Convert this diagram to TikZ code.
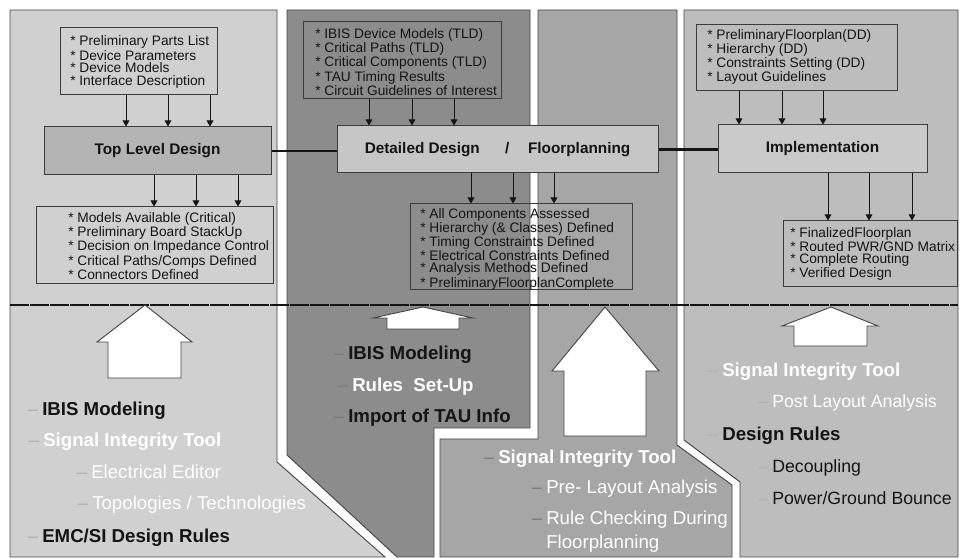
\documentclass[tikz,border=0pt]{standalone}
\usepackage{fontspec}
\setmainfont{Liberation Sans}
\usepackage{xcolor}
\usepackage{tikz}
\usetikzlibrary{arrows.meta, positioning, calc, fit}
\definecolor{mydark}{RGB}{20,20,20}
\definecolor{myedge}{RGB}{70,70,70}
\definecolor{mybox}{RGB}{60,60,60}
\definecolor{pnlleft}{RGB}{208,208,208}
\definecolor{pnldark}{RGB}{140,140,140}
\definecolor{pnlmid}{RGB}{166,166,166}
\definecolor{pnlright}{RGB}{189,189,189}
\definecolor{hdrtld}{RGB}{180,180,180}
\definecolor{hdrdd}{RGB}{198,198,198}
\definecolor{hdrimpl}{RGB}{202,202,202}
\definecolor{bulA}{RGB}{176,176,176}
\definecolor{bulB}{RGB}{122,122,122}
\newcommand{\bdash}[1]{\llap{\textcolor{#1}{\mdseries--}\hspace{3pt}}}
\tikzset{
  panel/.style={draw=myedge, line width=0.7pt},
  divider/.style={draw=mydark, line width=1pt, dash pattern=on 14pt off 1pt},
  listbox/.style={rectangle, draw=mybox, line width=0.75pt, inner sep=0pt},
  listtext/.style={anchor=west, align=left, inner sep=0pt, text=mydark,
    font=\fontsize{10.3}{9.4}\selectfont},
  stage/.style={rectangle, draw=mybox, line width=0.75pt, inner sep=0pt,
    text=mydark, font=\fontsize{11.5}{13}\selectfont\bfseries},
  arrow/.style={-{Triangle[length=4.5pt,width=5pt]}, line width=0.7pt, color=mydark},
  link/.style={line width=2.2pt, color=mydark},
  uparrow/.style={fill=white, draw=myedge, line width=0.7pt},
  botbold/.style={anchor=base west, inner sep=0pt, font=\fontsize{14}{16}\selectfont\bfseries},
  botplain/.style={anchor=base west, inner sep=0pt, font=\fontsize{14}{16}\selectfont}
}
\begin{document}
\begin{tikzpicture}[x=0.75pt, y=-0.75pt]
  % Canvas
  \fill[white] (0,0) rectangle (961,559);
  \useasboundingbox (0,0) rectangle (961,559);

  % Phase panels
  \draw[panel, fill=pnlleft] (10,10) -- (277,10) -- (277,462) -- (385,557) -- (10,557) -- cycle;
  \draw[panel, fill=pnldark] (287,10) -- (530,10) -- (530,428) -- (434,428) -- (434,557) -- (397,557) -- (287,455) -- cycle;
  \draw[panel, fill=pnlmid] (538,10) -- (677,10) -- (677,445) -- (732,485) -- (732,557) -- (440,557) -- (440,439) -- (538,439) -- cycle;
  \draw[panel, fill=pnlright] (684,10) -- (958,10) -- (958,557) -- (740,557) -- (740,482) -- (684,440) -- cycle;

  % Divider between flow and tools
  \draw[divider] (10,305) -- (958,305);

  % Stage boxes
  \node[stage, fill=hdrtld, minimum width=170.25pt, minimum height=36pt] (tld) at (157.5,151) {Top Level Design};
  \node[stage, fill=hdrdd, minimum width=240.75pt, minimum height=35.25pt] (dd) at (497.5,149.5) {Detailed Design\hspace{19pt}/\hspace{14pt}Floorplanning};
  \node[stage, fill=hdrimpl, minimum width=156.75pt, minimum height=36pt] (impl) at (822.5,149) {Implementation};
  \draw[link] (tld.east) -- (tld.east -| dd.west);
  \draw[link] (dd.east) -- (dd.east -| impl.west);

  % Inputs and outputs, Top Level Design
  \node[listbox, fit={(60,28) (217,95)}] (tldin) {};
  \node[listtext] (tldintxt) at (70,62) {* Preliminary Parts List\\* Device Parameters\\* Device Models\\* Interface Description};
  \node[listbox, fit={(36,207) (273,284)}] (tldout) {};
  \node[listtext] (tldouttxt) at (68,246) {* Models Available (Critical)\\* Preliminary Board StackUp\\* Decision on Impedance Control\\* Critical Paths/Comps Defined\\* Connectors Defined};
  \foreach \x in {126,168,210}
    \draw[arrow] (\x,0 |- tldin.south) -- (\x,0 |- tld.north);
  \foreach \x in {154,196,238}
    \draw[arrow] (\x,0 |- tld.south) -- (\x,0 |- tldout.north);

  % Inputs and outputs, Detailed Design
  \node[listbox, fit={(303,22) (501,99)}] (ddin) {};
  \node[listtext] (ddintxt) at (315,62) {* IBIS Device Models (TLD)\\* Critical Paths (TLD)\\* Critical Components (TLD)\\* TAU Timing Results\\* Circuit Guidelines of Interest};
  \node[listbox, fit={(410,204) (632,290)}] (ddout) {};
  \node[listtext] (ddouttxt) at (420,249) {* All Components Assessed\\* Hierarchy (\& Classes) Defined\\* Timing Constraints Defined\\* Electrical Constraints Defined\\* Analysis Methods Defined\\* PreliminaryFloorplanComplete};
  \foreach \x in {369,412,454}
    \draw[arrow] (\x,0 |- ddin.south) -- (\x,0 |- dd.north);
  \foreach \x in {471,513,554}
    \draw[arrow] (\x,0 |- dd.south) -- (\x,0 |- ddout.north);

  % Inputs and outputs, Implementation
  \node[listbox, fit={(696,25) (897,91)}] (implin) {};
  \node[listtext] (implintxt) at (707,57) {* PreliminaryFloorplan(DD)\\* Hierarchy (DD)\\* Constraints Setting (DD)\\* Layout Guidelines};
  \node[listbox, fit={(783,221) (957,287)}] (implout) {};
  \node[listtext] (implouttxt) at (790,254) {* FinalizedFloorplan\\* Routed PWR/GND Matrix\\* Complete Routing\\* Verified Design};
  \foreach \x in {739,782,823}
    \draw[arrow] (\x,0 |- implin.south) -- (\x,0 |- impl.north);
  \foreach \x in {828,869,912}
    \draw[arrow] (\x,0 |- impl.south) -- (\x,0 |- implout.north);

  % Tool support arrows
  \draw[uparrow] (145,305) -- (192,342) -- (181,342) -- (181,378) -- (108,378) -- (108,342) -- (97,342) -- cycle;
  \draw[uparrow] (423,307) -- (473,318) -- (459,318) -- (459,329) -- (387,329) -- (387,318) -- (373,318) -- cycle;
  \draw[uparrow] (605,307) -- (659,371) -- (646,371) -- (646,436) -- (564,436) -- (564,371) -- (552,371) -- cycle;
  \draw[uparrow] (831,307) -- (878,326) -- (867,326) -- (867,346) -- (794,346) -- (794,326) -- (782,326) -- cycle;

  % Tools, Top Level Design
  \node[botbold, text=mydark] (tl1) at (42,416) {\bdash{bulA}IBIS Modeling};
  \node[botbold, text=white] (tl2) at (43,447) {\bdash{bulA}Signal Integrity Tool};
  \node[botplain, text=white] (tl3) at (91,479) {\bdash{bulA}Electrical Editor};
  \node[botplain, text=white] (tl4) at (92,510) {\bdash{bulA}Topologies / Technologies};
  \node[botbold, text=mydark] (tl5) at (42,542) {\bdash{bulA}EMC/SI Design Rules};

  % Tools, Detailed Design
  \node[botbold, text=mydark] (dd1) at (348,360) {\bdash{bulB}IBIS Modeling};
  \node[botbold, text=white] (dd2) at (352,392) {\bdash{bulB}Rules\ \ Set-Up};
  \node[botbold, text=mydark] (dd3) at (348,423) {\bdash{bulB}Import of TAU Info};

  % Tools, Floorplanning
  \node[botbold, text=white] (fp1) at (498,464) {\bdash{bulB}Signal Integrity Tool};
  \node[botplain, text=white] (fp2) at (546,494) {\bdash{bulB}Pre- Layout Analysis};
  \node[botplain, text=white] (fp3) at (546,525) {\bdash{bulB}Rule Checking During};
  \node[botplain, text=white] (fp4) at (546,549) {Floorplanning};

  % Tools, Implementation
  \node[botbold, text=white] (im1) at (722,377) {\bdash{bulA}Signal Integrity Tool};
  \node[botplain, text=white, font=\fontsize{13.3}{16}\selectfont] (im2) at (772,408) {\bdash{bulA}Post Layout Analysis};
  \node[botbold, text=mydark] (im3) at (722,441) {\bdash{bulA}Design Rules};
  \node[botplain, text=mydark, font=\fontsize{13.3}{16}\selectfont] (im4) at (772,473) {\bdash{bulA}Decoupling};
  \node[botplain, text=mydark, font=\fontsize{13.3}{16}\selectfont] (im5) at (772,505) {\bdash{bulA}Power/Ground Bounce};
\end{tikzpicture}
\end{document}
